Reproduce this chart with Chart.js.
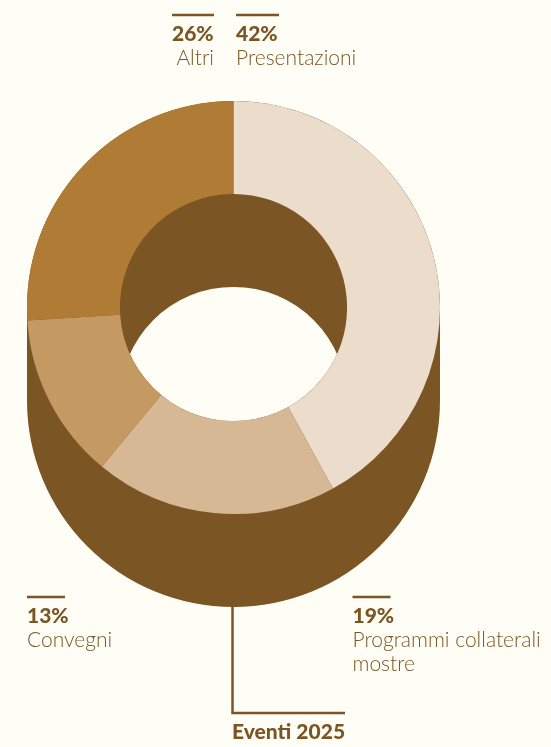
<!DOCTYPE html>
<html lang="it">
<head>
  <meta charset="utf-8" />
  <title>Eventi 2025</title>
  <script src="https://cdn.jsdelivr.net/npm/chart.js"></script>
  <style>
    html, body { margin: 0; padding: 0; background: #fffef6; }
    #chart-container { width: 551px; height: 747px; }
  </style>
</head>
<body>
  <div id="chart-container"><canvas id="eventsChart"></canvas></div>

  <script>
    const categories = ["Presentazioni", "Programmi collaterali mostre", "Convegni", "Altri"];
    const shares = [42, 19, 13, 26];
    const sliceColors = ["#ebdccb", "#d6b894", "#c49a62", "#b07b34"];
    const chartTitle = "Eventi 2025";

    const BROWN = "#7b5523";
    const BG = "#fffef6";
    const DEPTH = 93; // height of the extruded wall under the ring

    // one caption per slice: rule above, bold percentage, then the name
    const captions = [
      { x: 236, ruleY: 15, ruleW: 43, pctY: 41, lines: ["Presentazioni"], lineY: 65 },
      { x: 352.5, ruleY: 597, ruleW: 38, pctY: 623, lines: ["Programmi collaterali", "mostre"], lineY: 647 },
      { x: 27, ruleY: 597, ruleW: 38, pctY: 623, lines: ["Convegni"], lineY: 647 },
      { x: 172, ruleY: 15, ruleW: 42, pctY: 41, lines: ["Altri"], lineY: 65, right: 214 }
    ];

    // dark wall below the ring, drawn before the arcs
    const extrusion = {
      id: "extrusion",
      beforeDatasetsDraw(chart) {
        const arc = chart.getDatasetMeta(0).data[0];
        const { x, y, innerRadius, outerRadius } = arc.getProps(["x", "y", "innerRadius", "outerRadius"], true);
        const ctx = chart.ctx;
        ctx.save();
        ctx.fillStyle = BROWN;
        ctx.beginPath();
        ctx.arc(x, y, outerRadius, Math.PI, 0);
        ctx.arc(x, y + DEPTH, outerRadius, 0, Math.PI);
        ctx.closePath();
        ctx.fill();
        // see-through part of the hole
        ctx.beginPath();
        ctx.arc(x, y, innerRadius, 0, Math.PI * 2);
        ctx.clip();
        ctx.fillStyle = BG;
        ctx.beginPath();
        ctx.arc(x, y + DEPTH, innerRadius, 0, Math.PI * 2);
        ctx.fill();
        ctx.restore();
      }
    };

    // captions and the leader line going to the chart title
    const captionLabels = {
      id: "captionLabels",
      afterDatasetsDraw(chart) {
        const arc = chart.getDatasetMeta(0).data[0];
        const { x, y, outerRadius } = arc.getProps(["x", "y", "outerRadius"], true);
        const ctx = chart.ctx;
        ctx.save();
        ctx.fillStyle = BROWN;
        ctx.strokeStyle = BROWN;
        ctx.textBaseline = "alphabetic";

        captions.forEach((c, i) => {
          ctx.lineWidth = 2.5;
          ctx.beginPath();
          ctx.moveTo(c.x, c.ruleY);
          ctx.lineTo(c.x + c.ruleW, c.ruleY);
          ctx.stroke();

          ctx.font = "900 21px Lato";
          ctx.textAlign = "left";
          ctx.fillText(shares[i] + "%", c.x, c.pctY);

          ctx.font = "300 21px Lato";
          ctx.textAlign = c.right ? "right" : "left";
          c.lines.forEach((line, j) => {
            ctx.fillText(line, c.right || c.x, c.lineY + j * 24);
          });
        });

        const bottom = y + DEPTH + outerRadius;
        ctx.lineWidth = 2.5;
        ctx.beginPath();
        ctx.moveTo(x - 1, bottom);
        ctx.lineTo(x - 1, 713);
        ctx.lineTo(345, 713);
        ctx.stroke();

        ctx.font = "900 21px Lato";
        ctx.textAlign = "left";
        ctx.fillText(chartTitle, 232, 739);
        ctx.restore();
      }
    };

    new Chart(document.getElementById("eventsChart"), {
      type: "doughnut",
      data: {
        labels: categories,
        datasets: [{
          data: shares,
          backgroundColor: sliceColors,
          borderWidth: 0
        }]
      },
      options: {
        responsive: true,
        maintainAspectRatio: false,
        animation: false,
        cutout: "55%",
        layout: { padding: { left: 27, right: 111, top: 101, bottom: 233 } },
        plugins: {
          legend: { display: false },
          tooltip: { enabled: false }
        }
      },
      plugins: [extrusion, captionLabels]
    });
  </script>
</body>
</html>
